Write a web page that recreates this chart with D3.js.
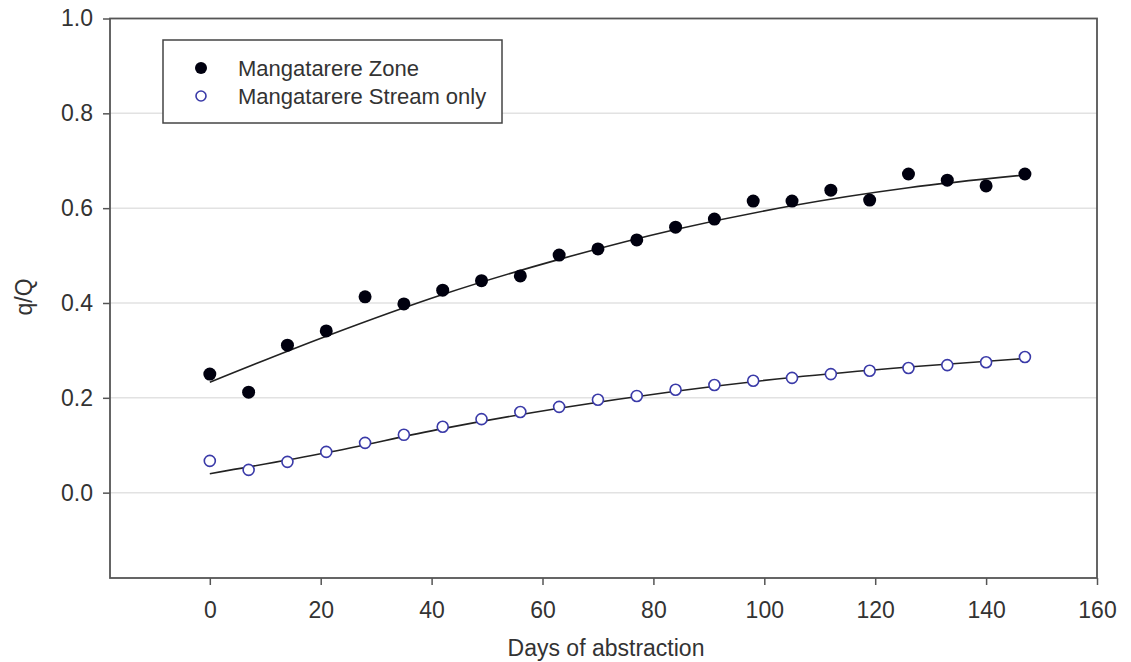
<!DOCTYPE html>
<html><head><meta charset="utf-8">
<script src="https://cdn.jsdelivr.net/npm/d3@7"></script>
<style>body{margin:0;background:#fff;} text{font-family:"Liberation Sans",Arial,sans-serif;}</style>
</head><body>
<svg id="c" width="1131" height="662"></svg>
<script>
const days = [0,7,14,21,28,35,42,49,56,63,70,77,84,91,98,105,112,119,126,133,140,147];
const zone = [0.25,0.212,0.311,0.341,0.413,0.398,0.427,0.447,0.457,0.501,0.514,0.533,0.560,0.577,0.615,0.615,0.638,0.617,0.672,0.659,0.647,0.672];
const stream = [0.067,0.048,0.065,0.086,0.105,0.122,0.139,0.155,0.170,0.181,0.196,0.204,0.217,0.227,0.236,0.242,0.250,0.257,0.263,0.269,0.275,0.286];
const fitDays = [0,21,42,63,84,105,126,147];
const fitZone = [0.233,0.330,0.418,0.492,0.555,0.605,0.643,0.670];
const fitStream = [0.040,0.084,0.135,0.178,0.214,0.243,0.265,0.283];
const xTicks = [0,20,40,60,80,100,120,140,160];
const yTicks = [0.0,0.2,0.4,0.6,0.8,1.0];
const seriesNames = ["Mangatarere Zone","Mangatarere Stream only"];

const svg = d3.select("#c");
const L=110, R=1097, T=18.5, B=578;
const x = d3.scaleLinear().domain([-18,160]).range([L,R]);
const y = d3.scaleLinear().domain([-0.18,1.0]).range([B,T]);
const axisCol="#555";

// grid
svg.append("g").selectAll("line").data(yTicks.filter(d=>d<1)).join("line")
  .attr("x1",L).attr("x2",R).attr("y1",d=>y(d)).attr("y2",d=>y(d))
  .attr("stroke","#e2e2e2").attr("stroke-width",1.5);

// frame
svg.append("rect").attr("x",L).attr("y",T).attr("width",R-L).attr("height",B-T)
  .attr("fill","none").attr("stroke",axisCol).attr("stroke-width",1.8);

const xa = svg.append("g").attr("transform",`translate(0,${B})`)
  .call(d3.axisBottom(x).tickValues(xTicks).tickSize(7).tickPadding(17).tickFormat(d3.format("d")));
const ya = svg.append("g").attr("transform",`translate(${L},0)`)
  .call(d3.axisLeft(y).tickValues(yTicks).tickSize(7).tickPadding(10).tickFormat(d3.format(".1f")));
[xa,ya].forEach(a=>{
  a.select(".domain").remove();
  a.selectAll("line").attr("stroke",axisCol).attr("stroke-width",1.5);
  a.selectAll("text").attr("fill","#333").style("font-size","23px").style("font-family","'Liberation Sans',Arial,sans-serif");
});

svg.append("text").attr("x",606).attr("y",656).attr("text-anchor","middle")
  .attr("fill","#333").style("font-size","23px").text("Days of abstraction");
svg.append("text").attr("transform",`translate(32,297) rotate(-90)`).attr("text-anchor","middle")
  .attr("fill","#333").style("font-size","23px").text("q/Q");

// fit lines
const line = d3.line().x(d=>x(d[0])).y(d=>y(d[1])).curve(d3.curveMonotoneX);
[fitZone,fitStream].forEach(f=>{
  svg.append("path").attr("d",line(fitDays.map((d,i)=>[d,f[i]])))
    .attr("fill","none").attr("stroke","#222").attr("stroke-width",1.6);
});

// points
svg.append("g").selectAll("circle").data(days.map((d,i)=>[d,stream[i]])).join("circle")
  .attr("cx",d=>x(d[0])).attr("cy",d=>y(d[1])).attr("r",5.5)
  .attr("fill","#fff").attr("stroke","#3a3aa8").attr("stroke-width",1.6);
svg.append("g").selectAll("circle").data(days.map((d,i)=>[d,zone[i]])).join("circle")
  .attr("cx",d=>x(d[0])).attr("cy",d=>y(d[1])).attr("r",6.5)
  .attr("fill","#00000f");

// legend
const lg = svg.append("g");
lg.append("rect").attr("x",163).attr("y",40).attr("width",339).attr("height",83)
  .attr("fill","#fff").attr("stroke","#444").attr("stroke-width",1.5);
lg.append("circle").attr("cx",201).attr("cy",68).attr("r",6).attr("fill","#00000f");
lg.append("circle").attr("cx",201).attr("cy",96).attr("r",5).attr("fill","#fff").attr("stroke","#3a3aa8").attr("stroke-width",1.6);
lg.selectAll("text.l").data(seriesNames).join("text").attr("class","l")
  .attr("x",238).attr("y",(d,i)=>76+i*28).attr("fill","#333").style("font-size","22px").text(d=>d);
</script>
</body></html>
